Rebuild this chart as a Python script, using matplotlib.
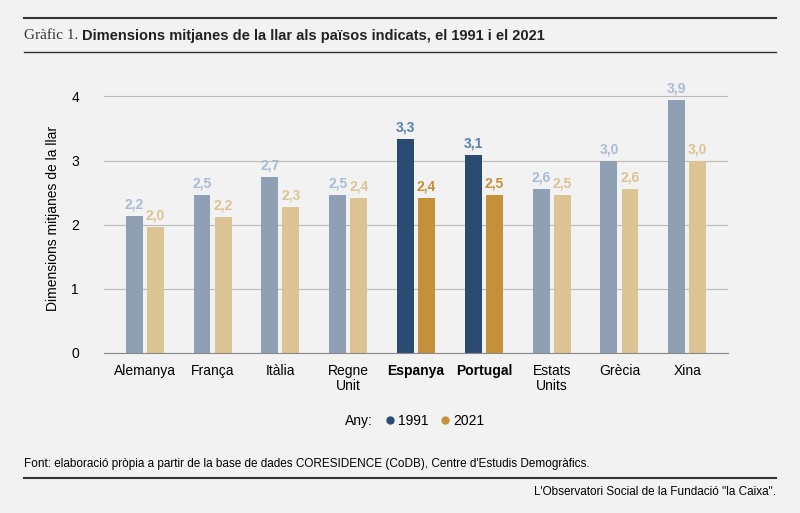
import numpy as np
import matplotlib
matplotlib.use("Agg")
import matplotlib.pyplot as plt
from matplotlib.lines import Line2D

plt.rcParams['font.family'] = ['Liberation Sans', 'DejaVu Sans']

countries = ["Alemanya", "França", "Itàlia", "Regne\nUnit", "Espanya", "Portugal",
             "Estats\nUnits", "Grècia", "Xina"]
vals_1991 = [2.13, 2.47, 2.74, 2.47, 3.34, 3.08, 2.56, 2.99, 3.95]
vals_2021 = [1.96, 2.12, 2.28, 2.42, 2.42, 2.47, 2.47, 2.56, 2.99]
labels_1991 = ["2,2", "2,5", "2,7", "2,5", "3,3", "3,1", "2,6", "3,0", "3,9"]
labels_2021 = ["2,0", "2,2", "2,3", "2,4", "2,4", "2,5", "2,5", "2,6", "3,0"]
highlight = ["Espanya", "Portugal"]

BG = "#f2f2f2"
C91, C91_F = "#2b4a72", "#8fa0b4"
C21, C21_F = "#c4913a", "#dcc394"
L91, L91_F = "#5b80ab", "#a9bcd3"
L21, L21_F = "#c4913a", "#dcc394"

fig = plt.figure(figsize=(8, 5.13), dpi=100, facecolor=BG)
ax = fig.add_axes([0.13, 0.312, 0.78, 0.525], facecolor=BG)

x = np.arange(len(countries))
w = 0.25
for i, c in enumerate(countries):
    hl = c in highlight
    ax.bar(x[i] - w / 2 - 0.03, vals_1991[i], w, color=C91 if hl else C91_F)
    ax.bar(x[i] + w / 2 + 0.03, vals_2021[i], w, color=C21 if hl else C21_F)
    ax.text(x[i] - w / 2 - 0.03, vals_1991[i] + 0.07, labels_1991[i], ha="center",
            va="bottom", fontsize=10, fontweight="bold", color=L91 if hl else L91_F)
    ax.text(x[i] + w / 2 + 0.03, vals_2021[i] + 0.07, labels_2021[i], ha="center",
            va="bottom", fontsize=10, fontweight="bold", color=L21 if hl else L21_F)

ax.set_ylim(0, 4.2)
ax.set_xlim(-0.6, len(countries) - 0.4)
ax.set_yticks([0, 1, 2, 3, 4])
ax.yaxis.grid(True, color="#bbbbbb", linewidth=0.8)
ax.set_axisbelow(True)
for s in ["top", "right", "left"]:
    ax.spines[s].set_visible(False)
ax.spines["bottom"].set_color("#888888")
ax.tick_params(axis="y", length=0, labelsize=10, pad=18)
ax.tick_params(axis="x", length=0, labelsize=10, pad=8)
ax.set_xticks(x)
ax.set_xticklabels(countries, va="top", linespacing=1.1)
for t in ax.get_xticklabels():
    if t.get_text() in highlight:
        t.set_fontweight("bold")
ax.set_ylabel("Dimensions mitjanes de la llar", fontsize=10, labelpad=8)

handles = [Line2D([], [], ls="", marker="", label="Any:"),
           Line2D([], [], marker="o", ls="", color=C91, markersize=5, label="1991"),
           Line2D([], [], marker="o", ls="", color=C21, markersize=5, label="2021")]
fig.legend(handles=handles, loc="center", bbox_to_anchor=(0.51, 0.18), ncol=3,
           frameon=False, fontsize=10, handletextpad=0.2, handlelength=0.8,
           columnspacing=0.8)

fig.add_artist(Line2D([0.03, 0.97], [0.965, 0.965], color="#333333", lw=1.5))
fig.add_artist(Line2D([0.03, 0.97], [0.898, 0.898], color="#333333", lw=1.0))
fig.text(0.03, 0.93, "Gràfic 1.", fontsize=11, family="Liberation Serif", va="center", color="#333333")
fig.text(0.103, 0.93, "Dimensions mitjanes de la llar als països indicats, el 1991 i el 2021",
         fontsize=10.5, fontweight="bold", va="center", color="#222222")
fig.text(0.03, 0.095, "Font: elaboració pròpia a partir de la base de dades CORESIDENCE (CoDB), "
         "Centre d'Estudis Demogràfics.", fontsize=8.5, va="center")
fig.add_artist(Line2D([0.03, 0.97], [0.068, 0.068], color="#333333", lw=1.5))
fig.text(0.97, 0.04, "L'Observatori Social de la Fundació \"la Caixa\".", fontsize=8.5,
         ha="right", va="center")

fig.savefig("out.png", dpi=100, facecolor=BG)
